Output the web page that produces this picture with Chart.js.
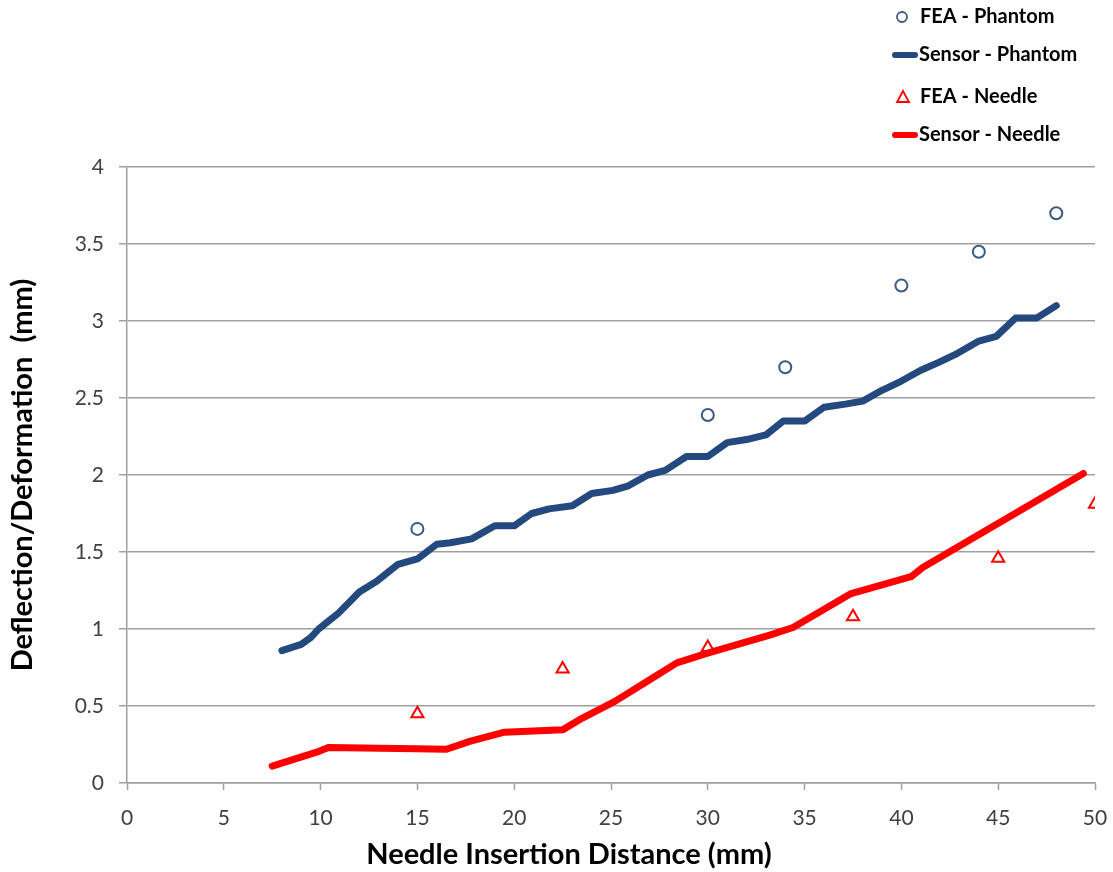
<!DOCTYPE html>
<html>
<head>
<meta charset="utf-8">
<script src="https://cdn.jsdelivr.net/npm/chart.js@4.4.1/dist/chart.umd.min.js"></script>
<style>
  body { margin: 0; background: #fff; }
  #wrap { width: 1113px; height: 872px; }
</style>
</head>
<body>
<div id="wrap"><canvas id="deflectionChart"></canvas></div>
<script>
const feaPhantomX = [15, 30, 34, 40, 44, 48];
const feaPhantomY = [1.65, 2.39, 2.70, 3.23, 3.45, 3.70];

const sensorPhantomX = [8, 9, 9.5, 9.9, 10.9, 12, 12.9, 14, 15, 16, 16.7, 17.8, 19, 20, 20.9, 21.8, 23, 24, 25.1, 25.9, 26.9, 27.8, 28.9, 30, 31, 32, 33, 33.9, 35, 36, 37.1, 38, 39, 40, 41, 41.9, 42.9, 44, 44.9, 45.9, 47, 48];
const sensorPhantomY = [0.86, 0.90, 0.945, 1.0, 1.10, 1.24, 1.31, 1.42, 1.455, 1.55, 1.56, 1.585, 1.67, 1.67, 1.75, 1.78, 1.80, 1.88, 1.90, 1.93, 2.00, 2.03, 2.12, 2.12, 2.21, 2.23, 2.26, 2.35, 2.35, 2.44, 2.46, 2.48, 2.55, 2.61, 2.68, 2.73, 2.79, 2.87, 2.90, 3.02, 3.02, 3.10];

const feaNeedleX = [15, 22.5, 30, 37.5, 45, 50];
const feaNeedleY = [0.45, 0.74, 0.88, 1.08, 1.46, 1.81];

const sensorNeedleX = [7.5, 9.8, 10.4, 14.9, 16.5, 17.7, 19.5, 22.5, 23.5, 25.2, 27, 28.4, 29.9, 33.2, 34.4, 37.4, 40.5, 41.1, 44.5, 49.4];
const sensorNeedleY = [0.11, 0.20, 0.23, 0.223, 0.219, 0.27, 0.33, 0.345, 0.42, 0.53, 0.67, 0.78, 0.84, 0.96, 1.01, 1.23, 1.34, 1.40, 1.65, 2.01];

const xTitle = 'Needle Insertion Distance (mm)';
const yTitle = 'Deflection/Deformation  (mm)';

function pairs(xs, ys) {
    return xs.map((x, i) => ({ x: x, y: ys[i] }));
}

const blue = '#24497f';
const red = '#ff0000';
const gridGray = '#a0a0a0';
const fontFamily = 'Lato, "Open Sans", sans-serif';

// legend + x title drawn by hand so they sit where the original has them
const sideLegend = {
    id: 'sideLegend',
    afterDraw(chart) {
        const ctx = chart.ctx;
        const rows = [17, 55, 97, 135];
        ctx.save();
        ctx.font = 'bold 20px ' + fontFamily;
        ctx.textBaseline = 'middle';
        ctx.fillStyle = '#000';
        chart.data.datasets.forEach((ds, i) => {
            const y = rows[i];
            ctx.strokeStyle = ds.borderColor;
            if (ds.showLine === false) {
                ctx.lineWidth = 1.8;
                ctx.beginPath();
                if (ds.pointStyle === 'triangle') {
                    ctx.moveTo(903, y - 6);
                    ctx.lineTo(909, y + 5);
                    ctx.lineTo(897, y + 5);
                    ctx.closePath();
                } else {
                    ctx.arc(902, y, 5, 0, Math.PI * 2);
                }
                ctx.stroke();
                ctx.fillText(ds.label, 920, y);
            } else {
                ctx.lineWidth = 6;
                ctx.lineCap = 'round';
                ctx.beginPath();
                ctx.moveTo(895, y);
                ctx.lineTo(915, y);
                ctx.stroke();
                ctx.fillText(ds.label, 919, y);
            }
        });
        ctx.font = 'bold 29px ' + fontFamily;
        ctx.textAlign = 'center';
        ctx.fillText(xTitle, 569, 855);
        ctx.restore();
    }
};

new Chart(document.getElementById('deflectionChart'), {
    type: 'line',
    data: {
        datasets: [
            {
                label: 'FEA - Phantom',
                data: pairs(feaPhantomX, feaPhantomY),
                showLine: false,
                pointStyle: 'circle',
                pointRadius: 6,
                pointBorderWidth: 2,
                borderColor: '#3a5a86',
                backgroundColor: 'rgba(255,255,255,0)'
            },
            {
                label: 'Sensor - Phantom',
                data: pairs(sensorPhantomX, sensorPhantomY),
                borderColor: blue,
                borderWidth: 7,
                pointRadius: 0,
                tension: 0,
                borderJoinStyle: 'round',
                borderCapStyle: 'round'
            },
            {
                label: 'FEA - Needle',
                data: pairs(feaNeedleX, feaNeedleY),
                showLine: false,
                pointStyle: 'triangle',
                pointRadius: 7,
                pointBorderWidth: 2,
                borderColor: red,
                backgroundColor: 'rgba(255,255,255,0)'
            },
            {
                label: 'Sensor - Needle',
                data: pairs(sensorNeedleX, sensorNeedleY),
                borderColor: red,
                borderWidth: 7,
                pointRadius: 0,
                tension: 0,
                borderJoinStyle: 'round',
                borderCapStyle: 'round'
            }
        ]
    },
    options: {
        responsive: true,
        maintainAspectRatio: false,
        animation: false,
        layout: { padding: { top: 167, right: 18, bottom: 0, left: 0 } },
        plugins: {
            legend: { display: false },
            tooltip: { enabled: false }
        },
        scales: {
            x: {
                type: 'linear',
                min: 0,
                max: 50,
                ticks: {
                    stepSize: 5,
                    color: '#404040',
                    font: { family: fontFamily, size: 21 },
                    padding: 16,
                    maxRotation: 0
                },
                grid: { drawOnChartArea: false, tickLength: 7, tickColor: gridGray, tickWidth: 1.5 },
                border: { color: gridGray, width: 1.5 },
                afterFit(scale) {
                    scale.height = 89;
                    scale.paddingLeft = 0;
                    scale.paddingRight = 0;
                }
            },
            y: {
                min: 0,
                max: 4,
                ticks: {
                    stepSize: 0.5,
                    color: '#404040',
                    font: { family: fontFamily, size: 21 },
                    padding: 15,
                    callback: (value) => String(value)
                },
                grid: { color: gridGray, lineWidth: 1.5, tickLength: 8 },
                border: { color: gridGray, width: 1.5 },
                title: {
                    display: true,
                    text: yTitle,
                    color: '#000',
                    font: { family: fontFamily, size: 29, weight: 'bold' },
                    padding: { top: 5, bottom: 0 }
                },
                afterFit(scale) { scale.width = 127; }
            }
        }
    },
    plugins: [sideLegend]
});
</script>
</body>
</html>
